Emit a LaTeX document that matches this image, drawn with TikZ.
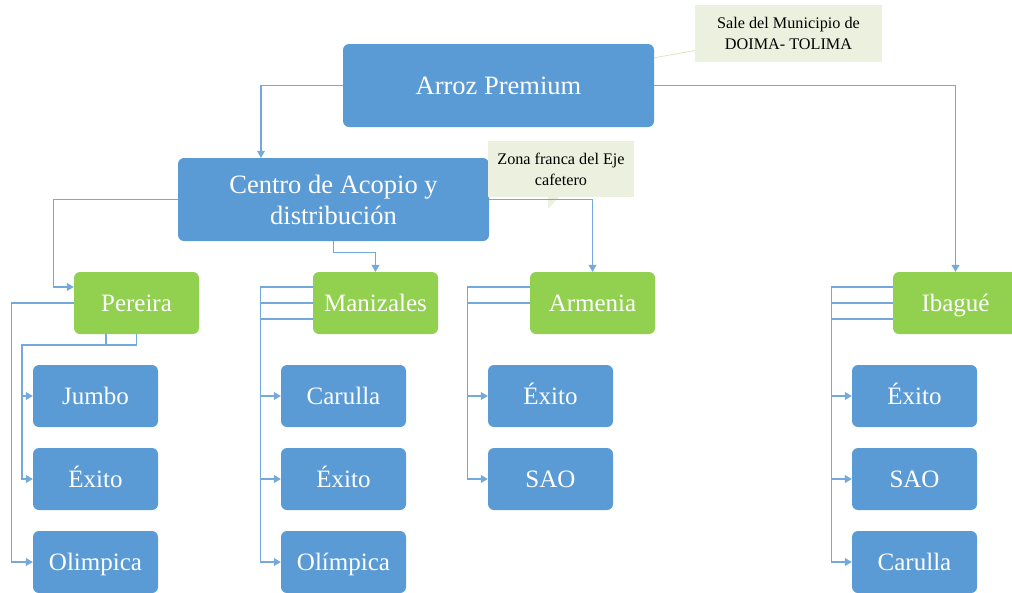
\documentclass[tikz,border=0pt]{standalone}
\usepackage{fontspec}
\setmainfont{Liberation Serif}
\usepackage{xcolor}
\usetikzlibrary{arrows.meta}

\definecolor{azul}{HTML}{5B9BD5}
\definecolor{verde}{HTML}{92D050}
\definecolor{nota}{HTML}{EBF1DE}

\begin{document}
\begin{tikzpicture}[x=1pt, y=-1pt,
    base/.style={fill=azul, rounded corners=6pt, text=white, inner sep=0pt},
    caja/.style={base, minimum width=125pt, minimum height=62pt,
        text height=20.5pt, text depth=3.5pt, font=\fontsize{25}{31}\selectfont},
    grande/.style={base, minimum width=311pt, minimum height=83pt, align=center,
        font=\fontsize{26.5}{31}\selectfont},
    ciudad/.style={caja, fill=verde},
    globo/.style={fill=nota, inner sep=0pt, align=center, font=\fontsize{16.2}{21}\selectfont},
    linea/.style={draw=azul!85!white, line width=1.1pt},
    flecha/.style={linea, -{Triangle[length=7pt,width=8pt]}}]
    \useasboundingbox (0,0) rectangle (1012,592);

    % Main boxes
    \node[grande] (arroz) at (498.5,85.5) {Arroz Premium};
    \node[grande] (centro) at (333.5,199.5) {Centro de Acopio y\\distribución};

    % Notes
    \node[globo, minimum width=187pt, minimum height=57pt] (sale) at (788.5,33.5)
        {Sale del Municipio de\\DOIMA- TOLIMA};
    \draw[nota!70!olive!60, line width=0.8pt] (sale.west) ++(0,17) -- ([yshift=-14pt]arroz.north east);
    \node[globo, minimum width=146pt, minimum height=56pt] (zona) at (561,169)
        {Zona franca del Eje\\cafetero};
    \fill[nota] (548,196) -- (548,209) -- (560,196) -- cycle;

    % Cities
    \node[ciudad] (pereira) at (136.5,303) {Pereira};
    \node[ciudad] (manizales) at (375.5,303) {Manizales};
    \node[ciudad] (armenia) at (592.5,303) {Armenia};
    \node[ciudad] (ibague) at (955.5,303) {Ibagué};

    % Stores
    \foreach \n/\t [count=\i] in {pJumbo/Jumbo, pExito/Éxito, pOlimpica/Olimpica}
        \node[caja] (\n) at (95.5,313+83*\i) {\t};
    \foreach \n/\t [count=\i] in {mCarulla/Carulla, mExito/Éxito, mOlimpica/Olímpica}
        \node[caja] (\n) at (343.5,313+83*\i) {\t};
    \foreach \n/\t [count=\i] in {aExito/Éxito, aSao/SAO}
        \node[caja] (\n) at (550.5,313+83*\i) {\t};
    \foreach \n/\t [count=\i] in {iExito/Éxito, iSao/SAO, iCarulla/Carulla}
        \node[caja] (\n) at (914.5,313+83*\i) {\t};

    % Top level
    \draw[flecha] (arroz.west) -| ([xshift=-72.5pt]centro.north);
    \draw[flecha] (arroz.east) -| (ibague.north);
    \draw[flecha] (centro.west) -- ++(-124.5,0) |- ([yshift=16pt]pereira.west);
    \draw[flecha] (centro.south) -- ++(0,11) -| (manizales.north);
    \draw[flecha] (centro.east) -| (armenia.north);

    % Pereira
    \coordinate (pbus) at (22,345);
    \draw[flecha] (pereira.south) |- (pbus) |- (pJumbo.west);
    \draw[flecha] ([xshift=-30.5pt]pereira.south) |- (pbus) |- (pExito.west);
    \draw[flecha] (pereira.west) -- ++(-62,0) |- (pOlimpica.west);

    % Manizales
    \foreach \s/\n in {16/mCarulla, 0/mExito, -16/mOlimpica}
        \draw[flecha] ([yshift=\s pt]manizales.west) -- ++(-52,0) |- (\n.west);

    % Armenia
    \foreach \s/\n in {16/aExito, 0/aSao}
        \draw[flecha] ([yshift=\s pt]armenia.west) -- ++(-62,0) |- (\n.west);

    % Ibague
    \foreach \s/\n in {16/iExito, 0/iSao, -16/iCarulla}
        \draw[flecha] ([yshift=\s pt]ibague.west) -- ++(-61,0) |- (\n.west);
\end{tikzpicture}
\end{document}
